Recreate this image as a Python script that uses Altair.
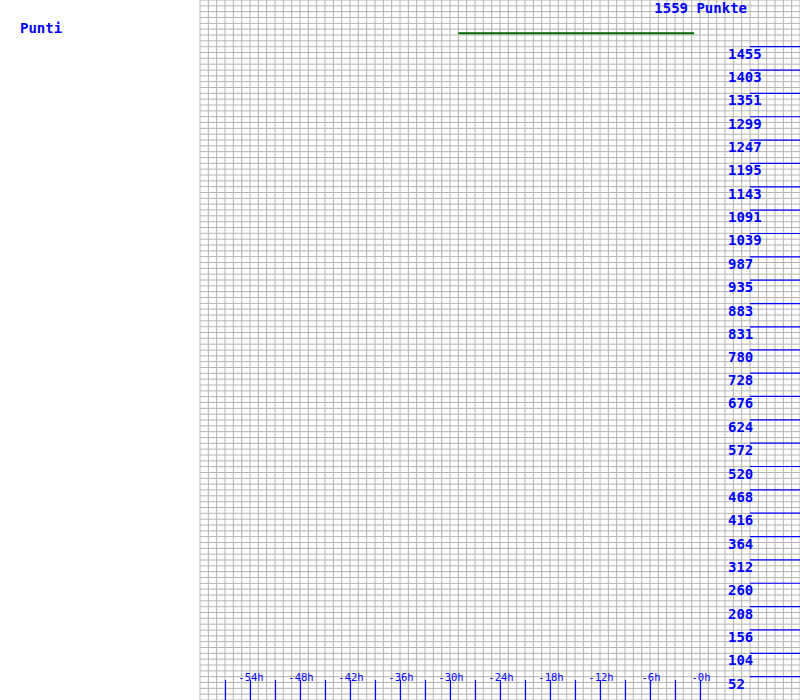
import altair as alt
import pandas as pd

# ---- data ----
series_hours = [-29.0, -0.7]
series_points = [1485, 1485]

y_tick_values = [52, 104, 156, 208, 260, 312, 364, 416, 468, 520, 572, 624, 676,
                 728, 780, 831, 883, 935, 987, 1039, 1091, 1143, 1195, 1247, 1299,
                 1351, 1403, 1455]
x_tick_values = [-57, -54, -51, -48, -45, -42, -39, -36, -33, -30, -27, -24, -21,
                 -18, -15, -12, -9, -6, -3, 0]
x_label_values = [-54, -48, -42, -36, -30, -24, -18, -12, -6, 0]
x_label_texts = ["-54h", "-48h", "-42h", "-36h", "-30h", "-24h", "-18h", "-12h", "-6h", "-0h"]

y_max = 1559
x_domain = [-60, 12]
x_grid = list(range(-60, 13))
y_grid = [y_max * i / 120 for i in range(121)]

BLUE = "#0000ff"
GRID = "#b4b4b4"
FONT = "DejaVu Sans Mono"

xs = alt.Scale(domain=x_domain, nice=False, zero=False)
ys = alt.Scale(domain=[0, y_max], nice=False, zero=False)

series_df = pd.DataFrame({"h": series_hours, "v": series_points})
ytick_df = pd.DataFrame({"v": y_tick_values, "lab": [str(v) for v in y_tick_values]})
xtick_df = pd.DataFrame({"h": x_tick_values})
xlab_df = pd.DataFrame({"h": x_label_values, "lab": x_label_texts})
xgrid_df = pd.DataFrame({"h": x_grid})
ygrid_df = pd.DataFrame({"v": y_grid})

xgrid = alt.Chart(xgrid_df).mark_rule(color=GRID, strokeWidth=1).encode(
    x=alt.X("h:Q", scale=xs, axis=None),
)
ygrid = alt.Chart(ygrid_df).mark_rule(color=GRID, strokeWidth=1).encode(
    y=alt.Y("v:Q", scale=ys, axis=None),
)

line = alt.Chart(series_df).mark_line(color="#006400", strokeWidth=2).encode(
    x=alt.X("h:Q", scale=xs, axis=None),
    y=alt.Y("v:Q", scale=ys, axis=None),
)

ytick_rules = alt.Chart(ytick_df).mark_rule(color=BLUE, strokeWidth=1.2).encode(
    y=alt.Y("v:Q", scale=ys, axis=None),
    x=alt.value(550),
    x2=alt.value(600),
)

ytick_text = alt.Chart(ytick_df).mark_text(
    color=BLUE, font=FONT, fontSize=14, fontWeight="bold", align="left",
    baseline="alphabetic", dy=12
).encode(
    y=alt.Y("v:Q", scale=ys, axis=None),
    x=alt.value(528),
    text="lab:N",
)

xtick_rules = alt.Chart(xtick_df).mark_rule(color=BLUE, strokeWidth=1.2, xOffset=0.5).encode(
    x=alt.X("h:Q", scale=xs, axis=None),
    y=alt.value(680),
    y2=alt.value(700),
)

xtick_text = alt.Chart(xlab_df).mark_text(
    color=BLUE, font=FONT, fontSize=10.5, align="center",
    baseline="alphabetic", dx=1
).encode(
    x=alt.X("h:Q", scale=xs, axis=None),
    y=alt.value(681),
    text="lab:N",
)

title_left = alt.Chart(pd.DataFrame({"t": ["Punti"]})).mark_text(
    color=BLUE, font=FONT, fontSize=14, fontWeight="bold", align="left", baseline="alphabetic"
).encode(x=alt.value(-180), y=alt.value(33), text="t:N")

title_right = alt.Chart(pd.DataFrame({"t": ["1559 Punkte"]})).mark_text(
    color=BLUE, font=FONT, fontSize=14, fontWeight="bold", align="right", baseline="alphabetic"
).encode(x=alt.value(547), y=alt.value(13), text="t:N")

chart = alt.layer(
    xgrid, ygrid, line, ytick_rules, ytick_text, xtick_rules, xtick_text, title_left, title_right
).properties(
    width=600,
    height=700,
    autosize=alt.AutoSizeParams(type="none"),
    padding={"left": 200, "top": 0, "right": 0, "bottom": 0},
    background="white",
).configure_view(stroke=None)

chart.save("out.html", embed_options={"renderer": "svg", "actions": False})
